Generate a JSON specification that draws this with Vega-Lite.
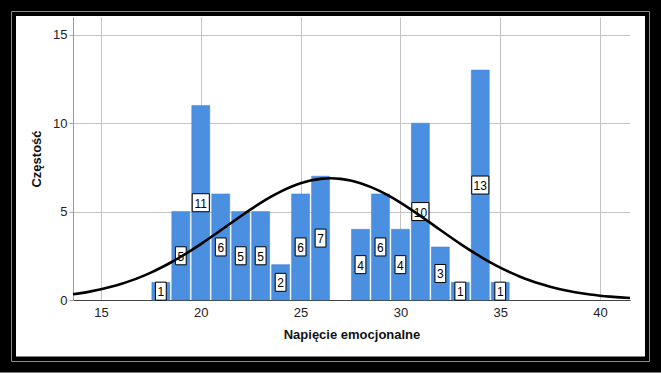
{
  "$schema": "https://vega.github.io/schema/vega-lite/v6.json",
  "autosize": {"type": "none"},
  "padding": {"left": 73, "top": 17, "right": 31, "bottom": 73},
  "width": 557,
  "height": 283,
  "background": "white",
  "config": {
    "view": {"stroke": null},
    "axis": {
      "labelFont": "Liberation Sans",
      "labelFontSize": 13,
      "labelColor": "#222222",
      "titleFont": "Liberation Sans",
      "titleFontSize": 13,
      "titleFontWeight": "bold",
      "titleColor": "#111111",
      "gridColor": "#c4c4c4",
      "gridWidth": 1
    }
  },
  "layer": [
    {
      "data": {"values": [
        {"value": 18, "count": 1},
        {"value": 19, "count": 5},
        {"value": 20, "count": 11},
        {"value": 21, "count": 6},
        {"value": 22, "count": 5},
        {"value": 23, "count": 5},
        {"value": 24, "count": 2},
        {"value": 25, "count": 6},
        {"value": 26, "count": 7},
        {"value": 28, "count": 4},
        {"value": 29, "count": 6},
        {"value": 30, "count": 4},
        {"value": 31, "count": 10},
        {"value": 32, "count": 3},
        {"value": 33, "count": 1},
        {"value": 34, "count": 13},
        {"value": 35, "count": 1}
      ]},
      "transform": [{"calculate": "datum.count / 2", "as": "mid"}],
      "layer": [
        {
          "mark": {"type": "bar", "size": 18, "fill": "#4a8fe0", "stroke": "#3f80d2", "strokeWidth": 0.5},
          "encoding": {
            "x": {
              "field": "value", "type": "quantitative",
              "scale": {"domain": [13.6, 41.5], "nice": false, "zero": false, "padding": 0},
              "axis": {
                "title": "Napięcie emocjonalne",
                "values": [15, 20, 25, 30, 35, 40],
                "ticks": false,
                "labelPadding": 6,
                "titlePadding": 9,
                "domainColor": "#444444",
                "domainWidth": 1
              }
            },
            "y": {
              "field": "count", "type": "quantitative",
              "scale": {"domain": [0, 16], "nice": false, "padding": 0},
              "axis": {
                "title": "Częstość",
                "values": [0, 5, 10, 15],
                "tickSize": 4,
                "tickColor": "#aaaaaa",
                "labelPadding": 2,
                "titlePadding": 9,
                "domainColor": "#999999",
                "domainWidth": 1
              }
            }
          }
        },
        {
          "mark": {"type": "point", "filled": true, "fill": "white", "stroke": "black", "strokeWidth": 1, "opacity": 1, "size": 324},
          "encoding": {
            "x": {"field": "value", "type": "quantitative"},
            "y": {"field": "mid", "type": "quantitative"},
            "shape": {
              "condition": {"test": "datum.count >= 10", "value": "M-0.95,-1L0.95,-1L0.95,1L-0.95,1Z"},
              "value": "M-0.6,-1L0.6,-1L0.6,1L-0.6,1Z"
            }
          }
        },
        {
          "mark": {"type": "text", "font": "Liberation Sans", "fontSize": 12, "color": "black", "baseline": "middle", "align": "center", "dy": 1},
          "encoding": {
            "x": {"field": "value", "type": "quantitative"},
            "y": {"field": "mid", "type": "quantitative"},
            "text": {"field": "count", "type": "quantitative"}
          }
        }
      ]
    },
    {
      "data": {"values": [
        {"x": 13.6, "y": 0.323}, {"x": 14, "y": 0.389}, {"x": 14.5, "y": 0.488}, {"x": 15, "y": 0.605},
        {"x": 15.5, "y": 0.744}, {"x": 16, "y": 0.907}, {"x": 16.5, "y": 1.095}, {"x": 17, "y": 1.309},
        {"x": 17.5, "y": 1.551}, {"x": 18, "y": 1.822}, {"x": 18.5, "y": 2.120}, {"x": 19, "y": 2.445},
        {"x": 19.5, "y": 2.793}, {"x": 20, "y": 3.161}, {"x": 20.5, "y": 3.546}, {"x": 21, "y": 3.942},
        {"x": 21.5, "y": 4.341}, {"x": 22, "y": 4.737}, {"x": 22.5, "y": 5.122}, {"x": 23, "y": 5.488},
        {"x": 23.5, "y": 5.827}, {"x": 24, "y": 6.129}, {"x": 24.5, "y": 6.389}, {"x": 25, "y": 6.598},
        {"x": 25.5, "y": 6.753}, {"x": 26, "y": 6.847}, {"x": 26.5, "y": 6.880}, {"x": 27, "y": 6.850},
        {"x": 27.5, "y": 6.758}, {"x": 28, "y": 6.606}, {"x": 28.5, "y": 6.398}, {"x": 29, "y": 6.140},
        {"x": 29.5, "y": 5.839}, {"x": 30, "y": 5.502}, {"x": 30.5, "y": 5.137}, {"x": 31, "y": 4.753},
        {"x": 31.5, "y": 4.357}, {"x": 32, "y": 3.957}, {"x": 32.5, "y": 3.562}, {"x": 33, "y": 3.176},
        {"x": 33.5, "y": 2.807}, {"x": 34, "y": 2.458}, {"x": 34.5, "y": 2.132}, {"x": 35, "y": 1.834},
        {"x": 35.5, "y": 1.562}, {"x": 36, "y": 1.318}, {"x": 36.5, "y": 1.102}, {"x": 37, "y": 0.914},
        {"x": 37.5, "y": 0.750}, {"x": 38, "y": 0.610}, {"x": 38.5, "y": 0.492}, {"x": 39, "y": 0.393},
        {"x": 39.5, "y": 0.311}, {"x": 40, "y": 0.244}, {"x": 40.5, "y": 0.190}, {"x": 41, "y": 0.146},
        {"x": 41.5, "y": 0.111}
      ]},
      "mark": {"type": "line", "color": "black", "strokeWidth": 2.6, "interpolate": "monotone"},
      "encoding": {
        "x": {"field": "x", "type": "quantitative"},
        "y": {"field": "y", "type": "quantitative"}
      }
    },
    {
      "data": {"values": [{}]},
      "mark": {"type": "rect", "fill": null, "stroke": "black", "strokeWidth": 16, "x": -65, "x2": 580, "y": -9, "y2": 347.5, "clip": false},
      "encoding": {}
    },
    {
      "data": {"values": [{}]},
      "mark": {"type": "rect", "fill": null, "stroke": "#8a8a8a", "strokeWidth": 1, "x": -61.5, "x2": 576.5, "y": -5.5, "y2": 344.5, "clip": false},
      "encoding": {}
    }
  ]
}
